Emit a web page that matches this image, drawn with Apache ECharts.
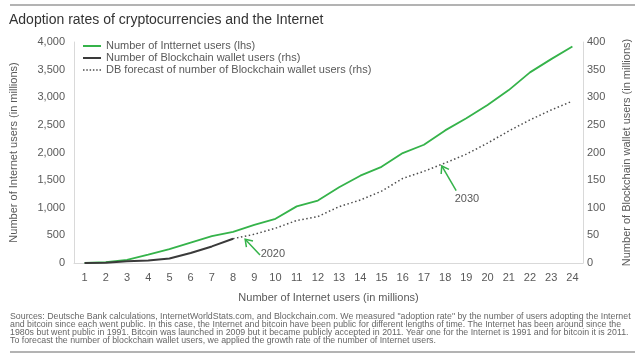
<!DOCTYPE html>
<html>
<head>
<meta charset="utf-8">
<script src="https://cdn.jsdelivr.net/npm/echarts@6/dist/echarts.min.js"></script>
<style>
html,body{margin:0;padding:0;background:#fff;}
#chart{width:640px;height:359px;}
</style>
</head>
<body>
<div id="chart"></div>
<script>
// ---- data ----
const categories = ['1','2','3','4','5','6','7','8','9','10','11','12','13','14','15','16','17','18','19','20','21','22','23','24'];
const internetUsers = [0, 15, 55, 150, 250, 370, 485, 565, 690, 800, 1025, 1130, 1370, 1580, 1740, 1990, 2140, 2400, 2620, 2860, 3130, 3450, 3690, 3920];
const blockchainUsers = [0, 0.5, 3, 4.5, 8, 18, 30, 44, null, null, null, null, null, null, null, null, null, null, null, null, null, null, null, null];
const blockchainForecast = [null, null, null, null, null, null, null, 44, 52, 63, 77, 84, 102, 114, 130, 153, 166, 181, 197, 217, 239, 259, 277, 293];
const leftTicks = [0, 4000, 500];
const rightTicks = [0, 400, 50];
// annotation arrows: [tailX, tailY(rhs), tipX, tipY(rhs), labelX, labelY(rhs), label]
const annotations = [
  [9.27, 14.5, 8.57, 42.9, 9.30, 16.3, '2020'],
  [18.52, 130.9, 17.84, 175.6, 18.45, 115.3, '2030']
];
const seriesNames = ['Number of Intternet users (lhs)', 'Number of Blockchain wallet users (rhs)', 'DB forecast of number of Blockchain wallet users (rhs)'];
const titleText = 'Adoption rates of cryptocurrencies and the Internet';
const sourceText = 'Sources: Deutsche Bank calculations, InternetWorldStats.com, and Blockchain.com. We measured "adoption rate" by the number of users adopting the Internet\nand bitcoin since each went public. In this case, the Internet and bitcoin have been public for different lengths of time. The Internet has been around since the\n1980s but went public in 1991. Bitcoin was launched in 2009 but it became publicly accepted in 2011. Year one for the Internet is 1991 and for bitcoin it is 2011.\nTo forecast the number of blockchain wallet users, we applied the growth rate of the number of Internet users.';

const FONT = '"Liberation Sans", Arial, sans-serif';
const GREEN = '#35b34a';
const TXT = '#595959';
const solidIcon = 'path://M0,0h18v2h-18z';
const dotIcon = 'path://M0,0h1.5v1.5h-1.5zM3.3,0h1.5v1.5h-1.5zM6.6,0h1.5v1.5h-1.5zM9.9,0h1.5v1.5h-1.5zM13.2,0h1.5v1.5h-1.5zM16.5,0h1.5v1.5h-1.5z';

const chart = echarts.init(document.getElementById('chart'), null, {renderer: 'canvas'});
chart.setOption({
  backgroundColor: '#fff',
  animation: false,
  textStyle: {fontFamily: FONT},
  title: [
    {text: titleText, left: 9, top: 13, padding: 0, textStyle: {fontFamily: FONT, fontSize: 14, fontWeight: 'normal', color: '#333'}},
    {text: sourceText, left: 10, top: 313, padding: 0, textStyle: {fontFamily: FONT, fontSize: 8.8, fontWeight: 'normal', color: '#666', lineHeight: 8}}
  ],
  graphic: [
    {type: 'rect', left: 10, top: 4, shape: {width: 625, height: 2}, style: {fill: '#b3b3b3'}},
    {type: 'rect', left: 10, top: 351, shape: {width: 625, height: 2}, style: {fill: '#b3b3b3'}}
  ],
  legend: {
    left: 83, top: 40, padding: 0, orient: 'vertical', itemWidth: 18, itemHeight: 10, itemGap: 0,
    textStyle: {fontFamily: FONT, fontSize: 11, color: TXT, lineHeight: 12},
    data: [
      {name: seriesNames[0], icon: solidIcon, itemStyle: {color: GREEN}},
      {name: seriesNames[1], icon: solidIcon, itemStyle: {color: '#3a3a3a'}},
      {name: seriesNames[2], icon: dotIcon, itemStyle: {color: '#4d4d4d'}}
    ]
  },
  grid: {left: 73, right: 51, top: 42, bottom: 96, containLabel: false},
  xAxis: [
    {
      type: 'category', data: categories, boundaryGap: true,
      name: 'Number of Internet users (in millions)', nameLocation: 'middle', nameGap: 29,
      nameTextStyle: {fontFamily: FONT, fontSize: 11, color: TXT},
      axisLine: {lineStyle: {color: '#d9d9d9'}}, axisTick: {show: false},
      axisLabel: {fontFamily: FONT, fontSize: 11, color: TXT, margin: 9, interval: 0},
      splitLine: {show: false}
    },
    {type: 'value', min: 0.5, max: 24.5, show: false}
  ],
  yAxis: [
    {
      type: 'value', min: leftTicks[0], max: leftTicks[1], interval: leftTicks[2], position: 'left',
      name: 'Number of Internet users (in millions)', nameLocation: 'middle', nameGap: 55,
      nameTextStyle: {fontFamily: FONT, fontSize: 11, color: TXT},
      axisLine: {show: true, lineStyle: {color: '#d9d9d9'}}, axisTick: {show: false},
      axisLabel: {fontFamily: FONT, fontSize: 11, color: TXT, margin: 9, formatter: v => v.toLocaleString('en-US')},
      splitLine: {show: false}
    },
    {
      type: 'value', min: rightTicks[0], max: rightTicks[1], interval: rightTicks[2], position: 'right',
      name: 'Number of Blockchain wallet users (in millions)', nameLocation: 'middle', nameGap: 38,
      nameTextStyle: {fontFamily: FONT, fontSize: 11, color: TXT},
      axisLine: {show: true, lineStyle: {color: '#d9d9d9'}}, axisTick: {show: false},
      axisLabel: {fontFamily: FONT, fontSize: 11, color: TXT, margin: 4},
      splitLine: {show: false}
    }
  ],
  series: [
    {
      name: seriesNames[0], type: 'line', data: internetUsers,
      xAxisIndex: 0, yAxisIndex: 0, symbol: 'none',
      lineStyle: {color: GREEN, width: 1.8}, itemStyle: {color: GREEN}
    },
    {
      name: seriesNames[1], type: 'line', data: blockchainUsers,
      xAxisIndex: 0, yAxisIndex: 1, symbol: 'none',
      lineStyle: {color: '#3a3a3a', width: 2}, itemStyle: {color: '#3a3a3a'}
    },
    {
      name: seriesNames[2], type: 'line', data: blockchainForecast,
      xAxisIndex: 0, yAxisIndex: 1, symbol: 'none',
      lineStyle: {color: '#4d4d4d', width: 1.5, type: [1.5, 2.5]}, itemStyle: {color: '#4d4d4d'}
    },
    {
      type: 'custom', xAxisIndex: 1, yAxisIndex: 1, data: annotations, silent: true, z: 10,
      renderItem: function (params, api) {
        const tail = api.coord([api.value(0), api.value(1)]);
        const tip = api.coord([api.value(2), api.value(3)]);
        const lab = api.coord([api.value(4), api.value(5)]);
        const ang = Math.atan2(tail[1] - tip[1], tail[0] - tip[0]);
        const L = 8, spread = 0.6;
        const h1 = [tip[0] + L * Math.cos(ang + spread), tip[1] + L * Math.sin(ang + spread)];
        const h2 = [tip[0] + L * Math.cos(ang - spread), tip[1] + L * Math.sin(ang - spread)];
        const st = {stroke: GREEN, lineWidth: 1.5, fill: null};
        return {
          type: 'group',
          children: [
            {type: 'line', shape: {x1: tail[0], y1: tail[1], x2: tip[0], y2: tip[1]}, style: st},
            {type: 'polyline', shape: {points: [h1, tip, h2]}, style: st},
            {type: 'text', style: {text: annotations[params.dataIndex][6], x: lab[0], y: lab[1], align: 'left', verticalAlign: 'middle', fontFamily: FONT, fontSize: 11, fill: TXT}}
          ]
        };
      }
    }
  ]
});
</script>
</body>
</html>
